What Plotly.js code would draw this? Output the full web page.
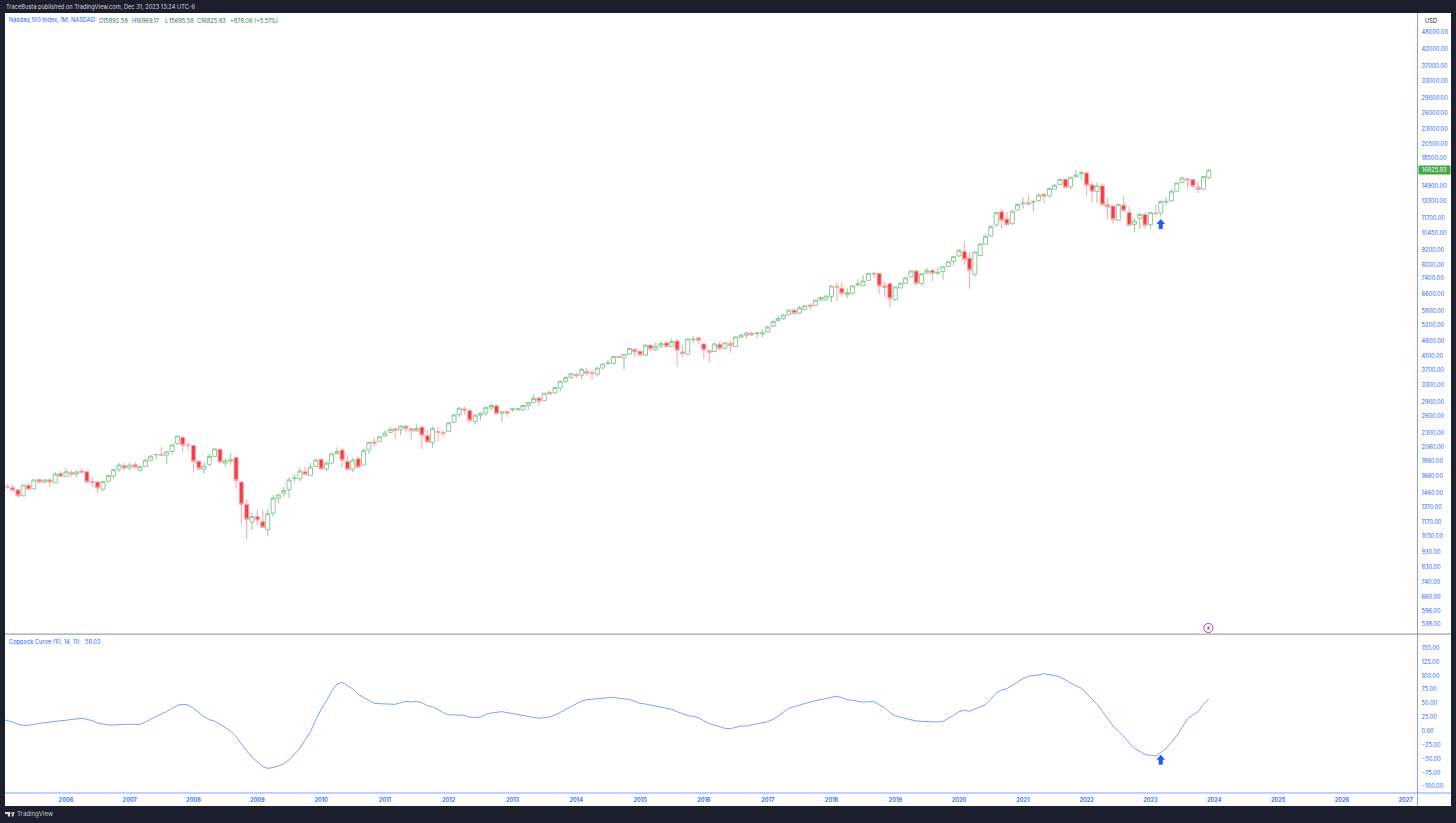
<!DOCTYPE html>
<html><head><meta charset="utf-8">
<script src="https://cdn.plot.ly/plotly-3.0.1.min.js"></script>
<style>html,body{margin:0;padding:0;background:#1c202c;overflow:hidden}#c{width:1456px;height:823px}</style>
</head><body><div id="c"></div>
<script>
const startYear = 2005, startMonth = 2;
const openPrices = [
1528,1515,1489,1424,1539,1500,1610,1582,1606,1574,
1684,1651,1697,1680,1719,1710,1586,1582,1497,1590,
1655,1741,1789,1758,1802,1728,1780,1866,1943,1943,
1938,1992,2115,2219,2095,2085,1852,1741,1807,1919,
2027,1825,1852,1904,1582,1334,1168,1216,1170,1102,
1250,1399,1452,1493,1622,1622,1710,1663,1780,1880,
1745,1825,1957,2016,1846,1741,1886,1797,2016,2141,
2152,2240,2304,2368,2350,2416,2368,2327,2398,2246,
2131,2316,2298,2322,2489,2637,2752,2718,2503,2624,
2665,2772,2817,2665,2698,2732,2739,2732,2824,2894,
2988,2930,3121,3107,3226,3392,3495,3574,3555,3658,
3622,3585,3751,3886,3886,4096,4045,4167,4326,4263,
4137,4461,4318,4426,4539,4426,4609,4240,4169,4660,
4714,4505,4285,4252,4483,4360,4517,4416,4737,4809,
4883,4873,4860,4932,5147,5372,5463,5620,5820,5690,
5850,6045,6030,6276,6292,6452,6957,6870,6530,6616,
7045,7010,7296,7700,7692,6992,7116,6300,6887,7134,
7485,7830,7130,7710,7860,7700,7800,8100,8420,8780,
9076,8630,7630,8805,9590,10187,11100,12270,11610,11237,
12457,13034,13133,13200,13366,14020,13845,14560,15100,15700,
14820,15980,16400,16470,15040,14300,14930,12935,12806,11495,
12900,12209,11152,11650,12020,11120,12148,12148,13200,13333,
14340,15300,15740,15660,14780,14560,15892.59];
const highPrices = [
1558,1550,1497,1550,1570,1614,1626,1618,1626,1706,
1719,1758,1728,1723,1754,1719,1639,1590,1590,1672,
1749,1829,1825,1834,1843,1793,1889,1938,1957,2058,
1992,2110,2241,2219,2131,2090,1862,1834,1957,2043,
2032,1894,1967,1909,1586,1385,1253,1285,1285,1285,
1431,1442,1523,1639,1672,1767,1780,1825,1889,1885,
1848,1977,2053,2045,1938,1899,1922,2031,2145,2213,
2235,2339,2398,2374,2429,2422,2374,2441,2404,2345,
2410,2398,2339,2493,2637,2788,2795,2758,2644,2678,
2802,2873,2831,2711,2718,2780,2780,2844,2894,3059,
3021,3113,3153,3258,3418,3523,3622,3631,3751,3760,
3695,3770,3886,3990,4116,4116,4167,4361,4340,4294,
4495,4483,4567,4586,4567,4703,4645,4470,4714,4773,
4761,4528,4306,4539,4596,4562,4620,4773,4858,4944,
4956,4944,5019,5173,5385,5590,5648,5865,5925,6014,
6045,6136,6308,6452,6534,7045,7206,7188,6870,7045,
7353,7600,7730,7720,7700,7224,7134,6957,7188,7501,
7888,7900,7700,8020,7960,8030,8100,8450,8780,9260,
9810,9050,9076,9687,10343,11100,12270,12520,12270,12395,
13067,13672,13950,13366,14127,14127,14746,15157,15780,15780,
16020,16810,16760,16550,15272,15350,15234,13636,12970,13067,
13811,12806,11727,12180,12209,12270,12970,13333,13672,14560,
15272,15980,15820,15700,15428,16100,16969.17];
const lowPrices = [
1500,1474,1402,1419,1493,1493,1562,1562,1523,1570,
1651,1643,1643,1639,1693,1562,1523,1452,1478,1570,
1622,1706,1732,1728,1758,1710,1771,1857,1871,1934,
1811,1948,2090,1982,2007,1702,1723,1680,1776,1909,
1825,1771,1802,1501,1147,1025,1100,1139,1116,1049,
1216,1344,1409,1398,1578,1590,1667,1659,1767,1736,
1715,1816,1957,1761,1736,1702,1761,1797,1961,2063,
2141,2229,2292,2191,2257,2304,2180,2316,2031,2126,
2052,2152,2213,2316,2471,2579,2631,2471,2452,2521,
2611,2718,2637,2497,2592,2698,2705,2711,2732,2880,
2824,2915,3075,3090,3146,3341,3452,3469,3435,3549,
3426,3514,3742,3856,3866,4055,3722,4147,4096,4086,
4106,4253,4274,4361,4383,4383,3800,4085,4136,4539,
4494,4024,3915,4232,4285,4317,4210,4394,4714,4702,
4785,4690,4737,4907,5134,5345,5412,5591,5648,5634,
5820,5865,6000,6230,6260,6184,6214,6452,6372,6550,
7010,7010,7278,7426,6583,6452,5939,6230,6870,7100,
7463,6990,7000,7650,7230,7570,7340,8090,8170,8700,
8205,6846,7495,8740,9567,10162,10930,10766,11068,11068,
12363,12583,13000,12300,13234,13067,13603,14524,15000,14707,
14524,15900,15622,13846,13165,13133,12900,11552,11152,11464,
12300,11040,10500,10712,10766,10793,12056,11846,12840,13267,
14307,15234,14633,14670,14163,14487,15695.58];
const closePrices = [
1522,1485,1424,1546,1497,1606,1582,1606,1582,1680,
1651,1710,1676,1706,1701,1582,1578,1512,1586,1659,
1736,1798,1758,1798,1767,1776,1866,1924,1948,1934,
1987,2095,2241,2090,2085,1848,1749,1784,1919,2032,
1839,1857,1871,1598,1337,1191,1216,1185,1120,1244,
1399,1435,1482,1606,1630,1719,1672,1771,1866,1745,
1825,1957,1992,1861,1739,1866,1770,2006,2136,2120,
2229,2292,2356,2339,2416,2374,2333,2374,2252,2141,
2368,2304,2287,2477,2630,2767,2725,2521,2624,2665,
2780,2824,2651,2691,2665,2752,2752,2824,2887,2980,
2915,3098,3082,3234,3392,3495,3592,3538,3713,3604,
3604,3751,3866,3896,4096,4065,4167,4350,4242,4147,
4461,4339,4426,4517,4414,4586,4294,4190,4678,4664,
4620,4306,4232,4505,4360,4539,4450,4750,4820,4895,
4822,4895,4895,5121,5345,5470,5606,5820,5675,5925,
6014,5984,6276,6404,6468,6992,6922,6600,6650,6993,
7100,7260,7692,7650,6992,6922,6354,6940,7134,7430,
7830,7127,7671,7848,7692,7749,8083,8403,8733,9151,
8543,7881,9050,9615,10187,10958,12207,11495,11125,12333,
12970,13100,13000,13270,13916,13811,14640,15000,15660,14730,
15940,16200,16520,15000,14340,14930,12935,12743,11580,12970,
12363,11068,11440,12020,11068,12209,12080,13267,13267,14340,
15272,15860,15622,14856,14524,16020,16825.93];
const coppockLeadMonth = '2005-01-01', coppockLeadValue = 21;
const coppockValues = [
19.2,16.2,12,10.2,10.2,12.6,13.8,15,16.2,18,
19.2,19.2,20.4,22.2,22.8,21,18.6,14.4,12,10.8,
10.8,12,12,12,12,12,16.2,21.6,26.4,30.6,
34.9,40.9,46.3,48.1,46.9,40.9,33.6,25.8,20.4,18,
12,6,0,-10.2,-23.5,-36,-46.9,-56.5,-64.3,-67.3,
-66,-63,-58.9,-52.3,-42,-31,-16.2,-1.2,19.9,39.1,
54.7,70.9,84.8,87.8,81.8,75.7,66.1,60.7,55.9,49.9,
49.3,48.7,47.5,48.1,51.1,53.5,52.3,53.5,51.1,45.7,
43.9,38.5,33.1,29.5,28.9,28.9,28.3,25.3,24.1,25.3,
30.1,32.5,33.7,34.9,33.1,31.3,29.5,27.7,26.5,24.7,
22.9,24.1,25.3,28.9,33.1,38.5,43.9,48.7,54.1,56.5,
57.1,58.9,58.9,59.5,60.7,58.9,57.7,57.1,53.5,49.9,
48.7,46.9,45.1,43.3,41.5,39.1,34.9,30.7,27.7,26.5,
24.1,18.1,13.2,10.8,7.2,4.8,4.2,6.6,9,9,
10.8,13.8,14.4,16.8,21,26.5,34.3,40.9,43.9,46.9,
50.5,52.3,54.7,56.5,57.7,60.7,62.5,60.1,56.5,55.3,
53.5,51.7,52.9,52.9,47.5,42.1,33.1,27.7,24.7,22.3,
20.5,18.1,17.4,16.8,15.6,16.2,17.4,22.3,28.3,34.9,
37.3,35.5,39.1,43.3,47.5,57.1,68.5,73.9,76.3,82.4,
88.4,94.4,98.6,99.2,101,103.4,102.2,99.8,97.4,92,
85.4,81.2,77.5,67.3,57.1,48.1,35.5,22.3,9,0,
-9.6,-21.6,-31.2,-36.6,-42,-43.9,-45,-39,-31.2,-21,
-8.4,6,22.3,28.9,34.9,48.1,58.02];
const priceTicks = [48000,42000,37000,33000,29000,26000,23000,20500,18500,14900,13300,11700,10450,9200,8200,7400,6600,5800,5200,4600,4100,3700,3300,2900,2600,2300,2060,1860,1660,1460,1310,1170,1050,930,830,740,660,596,538];
const coppockTicks = [150,125,100,75,50,25,0,-25,-50,-75,-100];
const yearTicks = [2006,2007,2008,2009,2010,2011,2012,2013,2014,2015,2016,2017,2018,2019,2020,2021,2022,2023,2024,2025,2026,2027];
const lastPrice = 16825.93;
const signalMonth = '2023-03-01';

const months = openPrices.map((_, i) => {
  const t = startYear * 12 + (startMonth - 1) + i;
  return Math.floor(t / 12) + '-' + String(t % 12 + 1).padStart(2, '0') + '-01';
});
const W = 1456, H = 823;
const px = x => x / W, py = y => 1 - y / H;
const FONT = 'Inter, "Noto Sans", sans-serif';
const BLUE = '#2962ff', GREEN = '#1f7a3c', LINE = '#7fa1ff', FS = 5.7;

const txt = (x, y, text, color, size, extra) => Object.assign({
  xref: 'paper', yref: 'paper', x: px(x), y: py(y), text, showarrow: false,
  xanchor: 'left', yanchor: 'middle', borderpad: 0,
  font: {family: FONT, size: size || FS, color}
}, extra || {});

const rect = (x0, y0, x1, y1, fill, layer) => ({
  type: 'rect', xref: 'paper', yref: 'paper', x0: px(x0), x1: px(x1), y0: py(y0), y1: py(y1),
  fillcolor: fill, line: {width: 0}, layer: layer || 'above'
});
const arrowPath = 'M-2,0 L2,0 L2,5 L4.3,5 L0,10 L-4.3,5 L-2,5 Z';
const pathPx = pts => 'M' + pts.map(p => px(p[0]) + ',' + py(p[1])).join(' L') + ' Z';

const layout = {
  width: W, height: H, autosize: false, showlegend: false,
  margin: {l: 0, r: 0, t: 0, b: 0, pad: 0},
  paper_bgcolor: '#1c202c', plot_bgcolor: 'rgba(0,0,0,0)',
  boxgap: 0.18, boxgroupgap: 0,
  font: {family: FONT},
  xaxis: {
    type: 'date', domain: [px(5), px(1417.5)], range: ['2005-01-17', '2027-03-10'],
    anchor: 'y2', rangeslider: {visible: false}, showgrid: false, zeroline: false, showline: false,
    ticks: '', tickmode: 'array', tickvals: yearTicks.map(y => y + '-01-01'), ticktext: yearTicks.map(String),
    tickfont: {family: FONT, size: FS, color: BLUE, weight: 600}, ticklabelstandoff: 2
  },
  yaxis: {
    type: 'log', domain: [py(634), py(13)], range: [2.6985, 4.7433], side: 'right', anchor: 'x',
    showgrid: false, zeroline: false, showline: false, ticks: '',
    tickmode: 'array', tickvals: priceTicks, ticktext: priceTicks.map(v => v.toFixed(2)),
    tickfont: {family: FONT, size: FS, color: BLUE}, ticklabelstandoff: 3
  },
  yaxis2: {
    domain: [py(793), py(634)], range: [-111.8, 174.9], side: 'right', anchor: 'x',
    showgrid: false, zeroline: false, showline: false, ticks: '',
    tickmode: 'array', tickvals: coppockTicks,
    ticktext: coppockTicks.map(v => (v < 0 ? '\u2212' + (-v).toFixed(2) : v.toFixed(2))),
    tickfont: {family: FONT, size: FS, color: BLUE}, ticklabelstandoff: 3
  },
  shapes: [
    rect(5, 13, 1451, 806, '#ffffff', 'below'),
    rect(5, 633.5, 1451, 634.8, '#a3a3a8'),
    rect(5, 792.4, 1451, 793.4, LINE),
    rect(1417, 13, 1418, 806, LINE),
    {type: 'path', xref: 'x', yref: 'paper', xsizemode: 'pixel', ysizemode: 'pixel',
     xanchor: signalMonth, yanchor: py(229), path: arrowPath, fillcolor: '#1e5bff', line: {width: 0}},
    {type: 'path', xref: 'x', yref: 'y2', xsizemode: 'pixel', ysizemode: 'pixel',
     xanchor: signalMonth, yanchor: -61, path: arrowPath, fillcolor: '#1e5bff', line: {width: 0}},
    {type: 'circle', xref: 'paper', yref: 'paper', x0: px(1203.8), x1: px(1213), y0: py(632.6), y1: py(623.4),
     fillcolor: '#ffffff', line: {color: '#ab47bc', width: 1}},
    {type: 'path', xref: 'paper', yref: 'paper', fillcolor: '#ab47bc', line: {width: 0},
     path: pathPx([[1210,625],[1206.6,628.6],[1208.1,628.6],[1207,631],[1210.4,627.4],[1208.8,627.4]])},
    {type: 'path', xref: 'paper', yref: 'paper', fillcolor: '#d8dae0', line: {width: 0},
     path: pathPx([[5,812],[10,812],[10,816.6],[7.8,816.6],[7.8,814],[5,814]])},
    {type: 'circle', xref: 'paper', yref: 'paper', x0: px(10.3), x1: px(11.9), y0: py(813.8), y1: py(812.2),
     fillcolor: '#d8dae0', line: {width: 0}},
    {type: 'path', xref: 'paper', yref: 'paper', fillcolor: '#d8dae0', line: {width: 0},
     path: pathPx([[11.6,816.6],[12.6,812],[14.6,812],[13.2,816.6]])}
  ],
  annotations: [
    txt(5, 7, 'TraceBusta published on TradingView.com, Dec 31, 2023 13:24 UTC-6', '#d1d4dc'),
    txt(7.7, 20.3, 'Nasdaq 100 Index, 1M, NASDAQ', BLUE),
    txt(98, 20.3, 'O', BLUE), txt(102, 20.3, '15892.59', GREEN),
    txt(131, 20.3, 'H', BLUE), txt(135, 20.3, '16969.17', GREEN),
    txt(164, 20.3, 'L', BLUE), txt(167.5, 20.3, '15695.58', GREEN),
    txt(196, 20.3, 'C', BLUE), txt(200, 20.3, '16825.93', GREEN),
    txt(229, 20.3, '+878.06 (+5.51%)', GREEN),
    txt(7.9, 641.7, 'Coppock Curve (10, 14, 11)', BLUE),
    txt(84.2, 641.7, '58.02', BLUE),
    txt(1424, 21, 'USD', '#131722'),
    txt(16, 814.3, 'TradingView', '#c8cad2', 6.1),
    {xref: 'paper', yref: 'y', x: px(1418), y: Math.log10(lastPrice), text: lastPrice.toFixed(2),
     showarrow: false, xanchor: 'left', yanchor: 'middle', bgcolor: '#43a843', borderpad: 0,
     width: 31, height: 7.6, align: 'center', font: {family: FONT, size: FS, color: '#ffffff'}}
  ]
};

const traces = [
  {type: 'candlestick', x: months, open: openPrices, high: highPrices, low: lowPrices, close: closePrices,
   xaxis: 'x', yaxis: 'y', whiskerwidth: 0,
   increasing: {line: {color: '#8fc998', width: 1}, fillcolor: '#ffffff'},
   decreasing: {line: {color: '#f9a5a8', width: 1}, fillcolor: '#f23d45'}},
  {type: 'scatter', mode: 'lines', x: [coppockLeadMonth].concat(months), y: [coppockLeadValue].concat(coppockValues), xaxis: 'x', yaxis: 'y2',
   line: {color: '#7ba0ff', width: 1, shape: 'linear'}, hoverinfo: 'skip'}
];
Plotly.newPlot('c', traces, layout, {staticPlot: true, displayModeBar: false});
</script></body></html>
